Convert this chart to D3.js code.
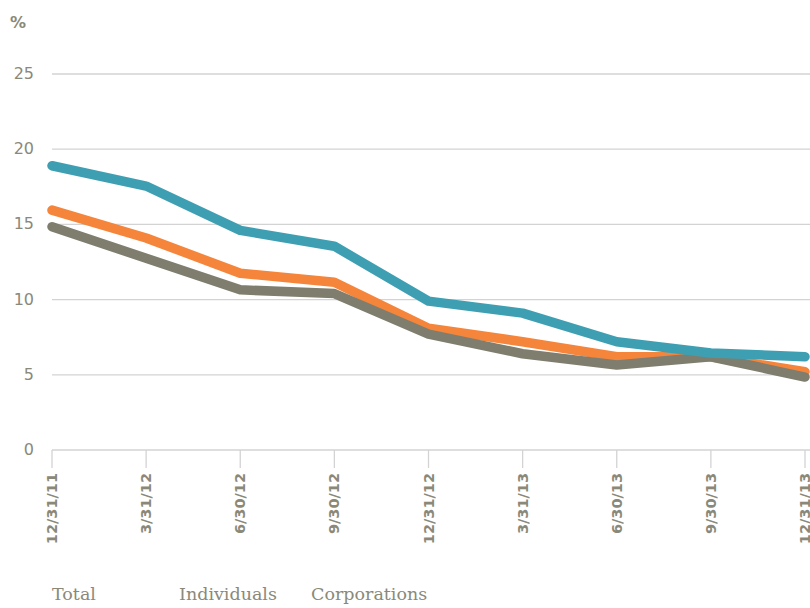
<!DOCTYPE html>
<html>
<head>
<meta charset="utf-8">
<script src="https://cdn.jsdelivr.net/npm/d3@7"></script>
<style>
body { margin: 0; background: #fff; }
.grid line { stroke: #d3d3d3; stroke-width: 1.3; }
.tick-lbl { font-family: "DejaVu Sans", sans-serif; font-weight: bold; font-size: 14.5px; fill: #8a8979; }
.y-lbl { font-family: "DejaVu Sans", sans-serif; font-size: 16px; fill: #8a8979; }
.pct { font-family: "DejaVu Sans", sans-serif; font-weight: bold; font-size: 16px; fill: #8a8979; }
.legend { font-family: "DejaVu Serif", serif; font-size: 17.5px; fill: #8a8979; }
</style>
</head>
<body>
<script>
(function(){

//categories and series
var dates = ["12/31/11", "3/31/12", "6/30/12", "9/30/12", "12/31/12", "3/31/13", "6/30/13", "9/30/13", "12/31/13"];
var totalVals = [18.9, 17.55, 14.6, 13.55, 9.9, 9.1, 7.2, 6.45, 6.2];
var individualVals = [15.95, 14.1, 11.75, 11.15, 8.1, 7.2, 6.2, 6.2, 5.2];
var corporationVals = [14.85, 12.75, 10.65, 10.4, 7.7, 6.4, 5.65, 6.2, 4.85];
var yTicks = [0, 5, 10, 15, 20, 25];
var seriesNames = ["Total", "Individuals", "Corporations"];

var width = 810, height = 608;

var svg = d3.select("body").append("svg")
    .attr("width", width)
    .attr("height", height);

var x = d3.scalePoint()
    .domain(dates)
    .range([52, 805]);

var y = d3.scaleLinear()
    .domain([0, 25])
    .range([450, 74]);

//horizontal grid lines
svg.append("g").attr("class", "grid")
    .selectAll("line")
    .data(yTicks)
    .enter().append("line")
    .attr("x1", 52).attr("x2", 810)
    .attr("y1", function(d){ return y(d); })
    .attr("y2", function(d){ return y(d); });

//y labels
svg.selectAll(".y-lbl")
    .data(yTicks)
    .enter().append("text")
    .attr("class", "y-lbl")
    .attr("x", 34)
    .attr("y", function(d){ return y(d) + 5; })
    .attr("text-anchor", "end")
    .text(function(d){ return d; });

svg.append("text")
    .attr("class", "pct")
    .attr("x", 10).attr("y", 28)
    .text("%");

//x ticks
svg.append("g").attr("class", "grid")
    .selectAll("line")
    .data(dates)
    .enter().append("line")
    .attr("x1", function(d){ return x(d); })
    .attr("x2", function(d){ return x(d); })
    .attr("y1", 450).attr("y2", 468);

svg.selectAll(".tick-lbl")
    .data(dates)
    .enter().append("text")
    .attr("class", "tick-lbl")
    .attr("text-anchor", "end")
    .attr("transform", function(d){ return "translate(" + (x(d) + 5) + ",473) rotate(-90)"; })
    .text(function(d){ return d; });

//lines
var line = d3.line()
    .x(function(d, i){ return x(dates[i]); })
    .y(function(d){ return y(d); });

var series = [
    {vals: individualVals, color: "#f5853b"},
    {vals: corporationVals, color: "#7f7d6d"},
    {vals: totalVals, color: "#3f9fb2"}
];

svg.selectAll(".series")
    .data(series)
    .enter().append("path")
    .attr("class", "series")
    .attr("fill", "none")
    .attr("stroke", function(d){ return d.color; })
    .attr("stroke-width", 9.5)
    .attr("stroke-linecap", "round")
    .attr("stroke-linejoin", "round")
    .attr("d", function(d){ return line(d.vals); });

//legend (text only)
var legendX = [52, 179, 311];
svg.selectAll(".legend")
    .data(seriesNames)
    .enter().append("text")
    .attr("class", "legend")
    .attr("x", function(d, i){ return legendX[i]; })
    .attr("y", 600)
    .text(function(d){ return d; });

})();
</script>
</body>
</html>
